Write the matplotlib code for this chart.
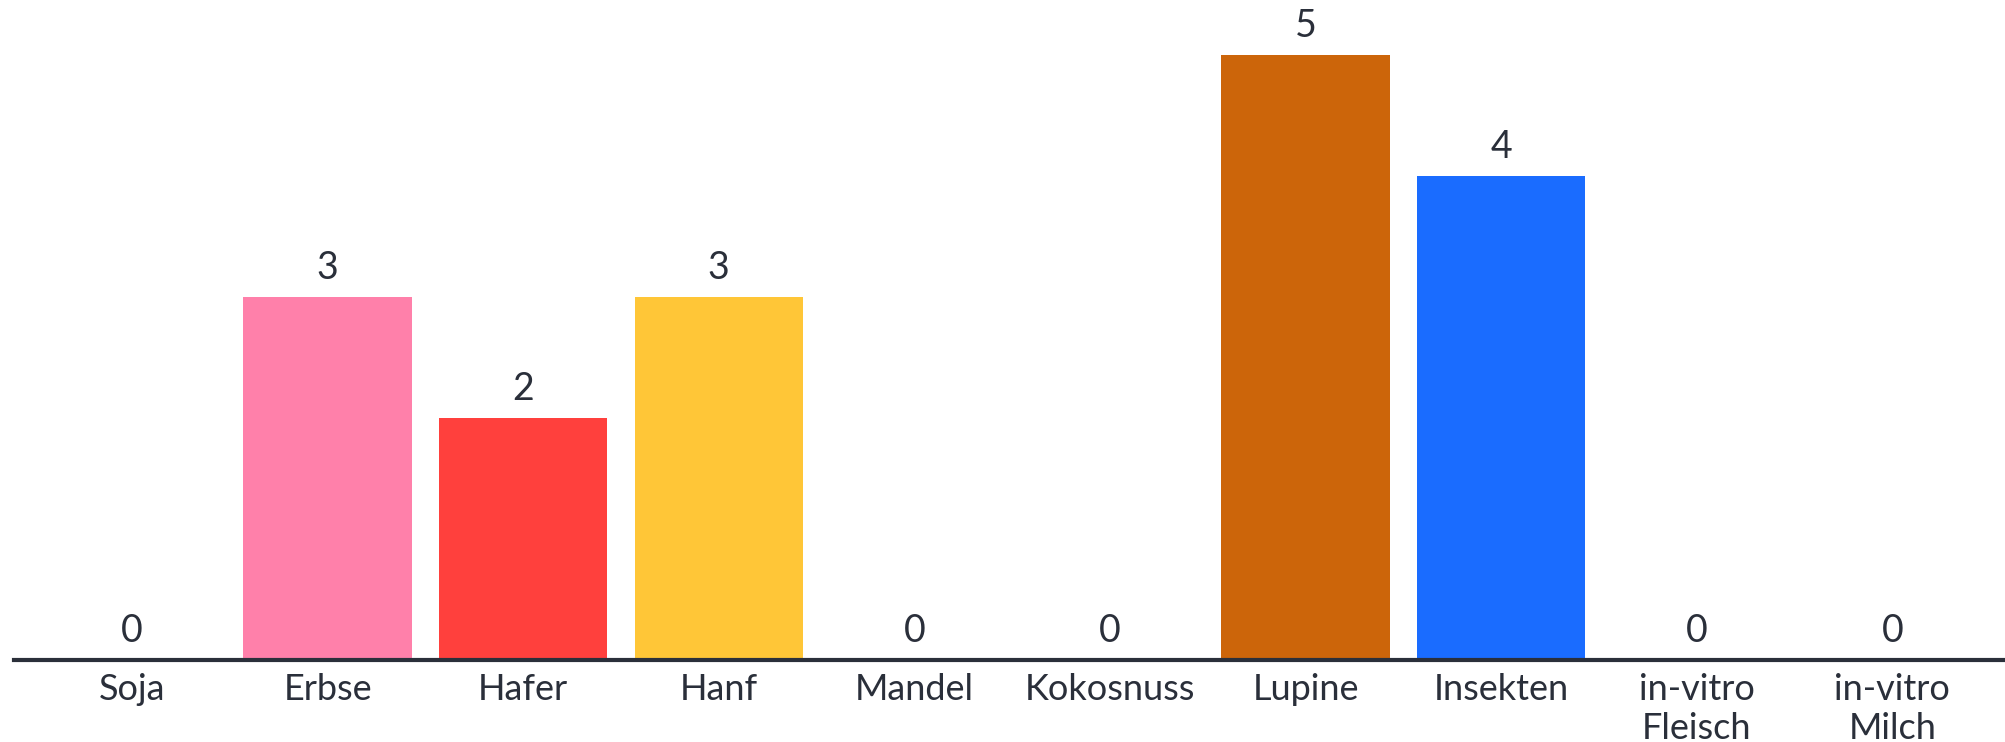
import matplotlib
matplotlib.use('Agg')
from matplotlib import pyplot as plt

# answers per category
categories = ['Soja', 'Erbse', 'Hafer', 'Hanf', 'Mandel', 'Kokosnuss',
              'Lupine', 'Insekten', 'in-vitro\nFleisch', 'in-vitro\nMilch']
counts = [0, 3, 2, 3, 0, 0, 5, 4, 0, 0]
colors = ['#5b6fe0', '#ff80aa', '#ff403d', '#ffc637', '#7e8aa0', '#7e8aa0',
          '#cc650a', '#1a6cff', '#7e8aa0', '#7e8aa0']

text_color = '#2a2f3a'
plt.rcParams['font.family'] = ['Lato', 'DejaVu Sans']

fig = plt.figure(figsize=(20.05, 7.42), dpi=100)
ax = fig.add_axes([0.007, 0.1105, 0.993, 0.8895])

x = range(len(categories))
bars = ax.bar(x, counts, width=0.86, color=colors, zorder=2)
for xi, v in zip(x, counts):
    ax.annotate(str(v), (xi, v), xytext=(0, 8), textcoords='offset points',
                ha='center', va='bottom', fontsize=27, color=text_color)

ax.set_xlim(-0.603, 9.576)
ax.set_ylim(0, 5.455)
ax.set_xticks(list(x))
ax.set_xticklabels(categories, fontsize=26, color=text_color, linespacing=1.25)
ax.tick_params(axis='x', length=0, pad=9)
ax.set_yticks([])
for s in ['top', 'right', 'left']:
    ax.spines[s].set_visible(False)
ax.spines['bottom'].set_color(text_color)
ax.spines['bottom'].set_linewidth(3)
ax.spines['bottom'].set_zorder(3)

fig.savefig('out.png', dpi=100)
